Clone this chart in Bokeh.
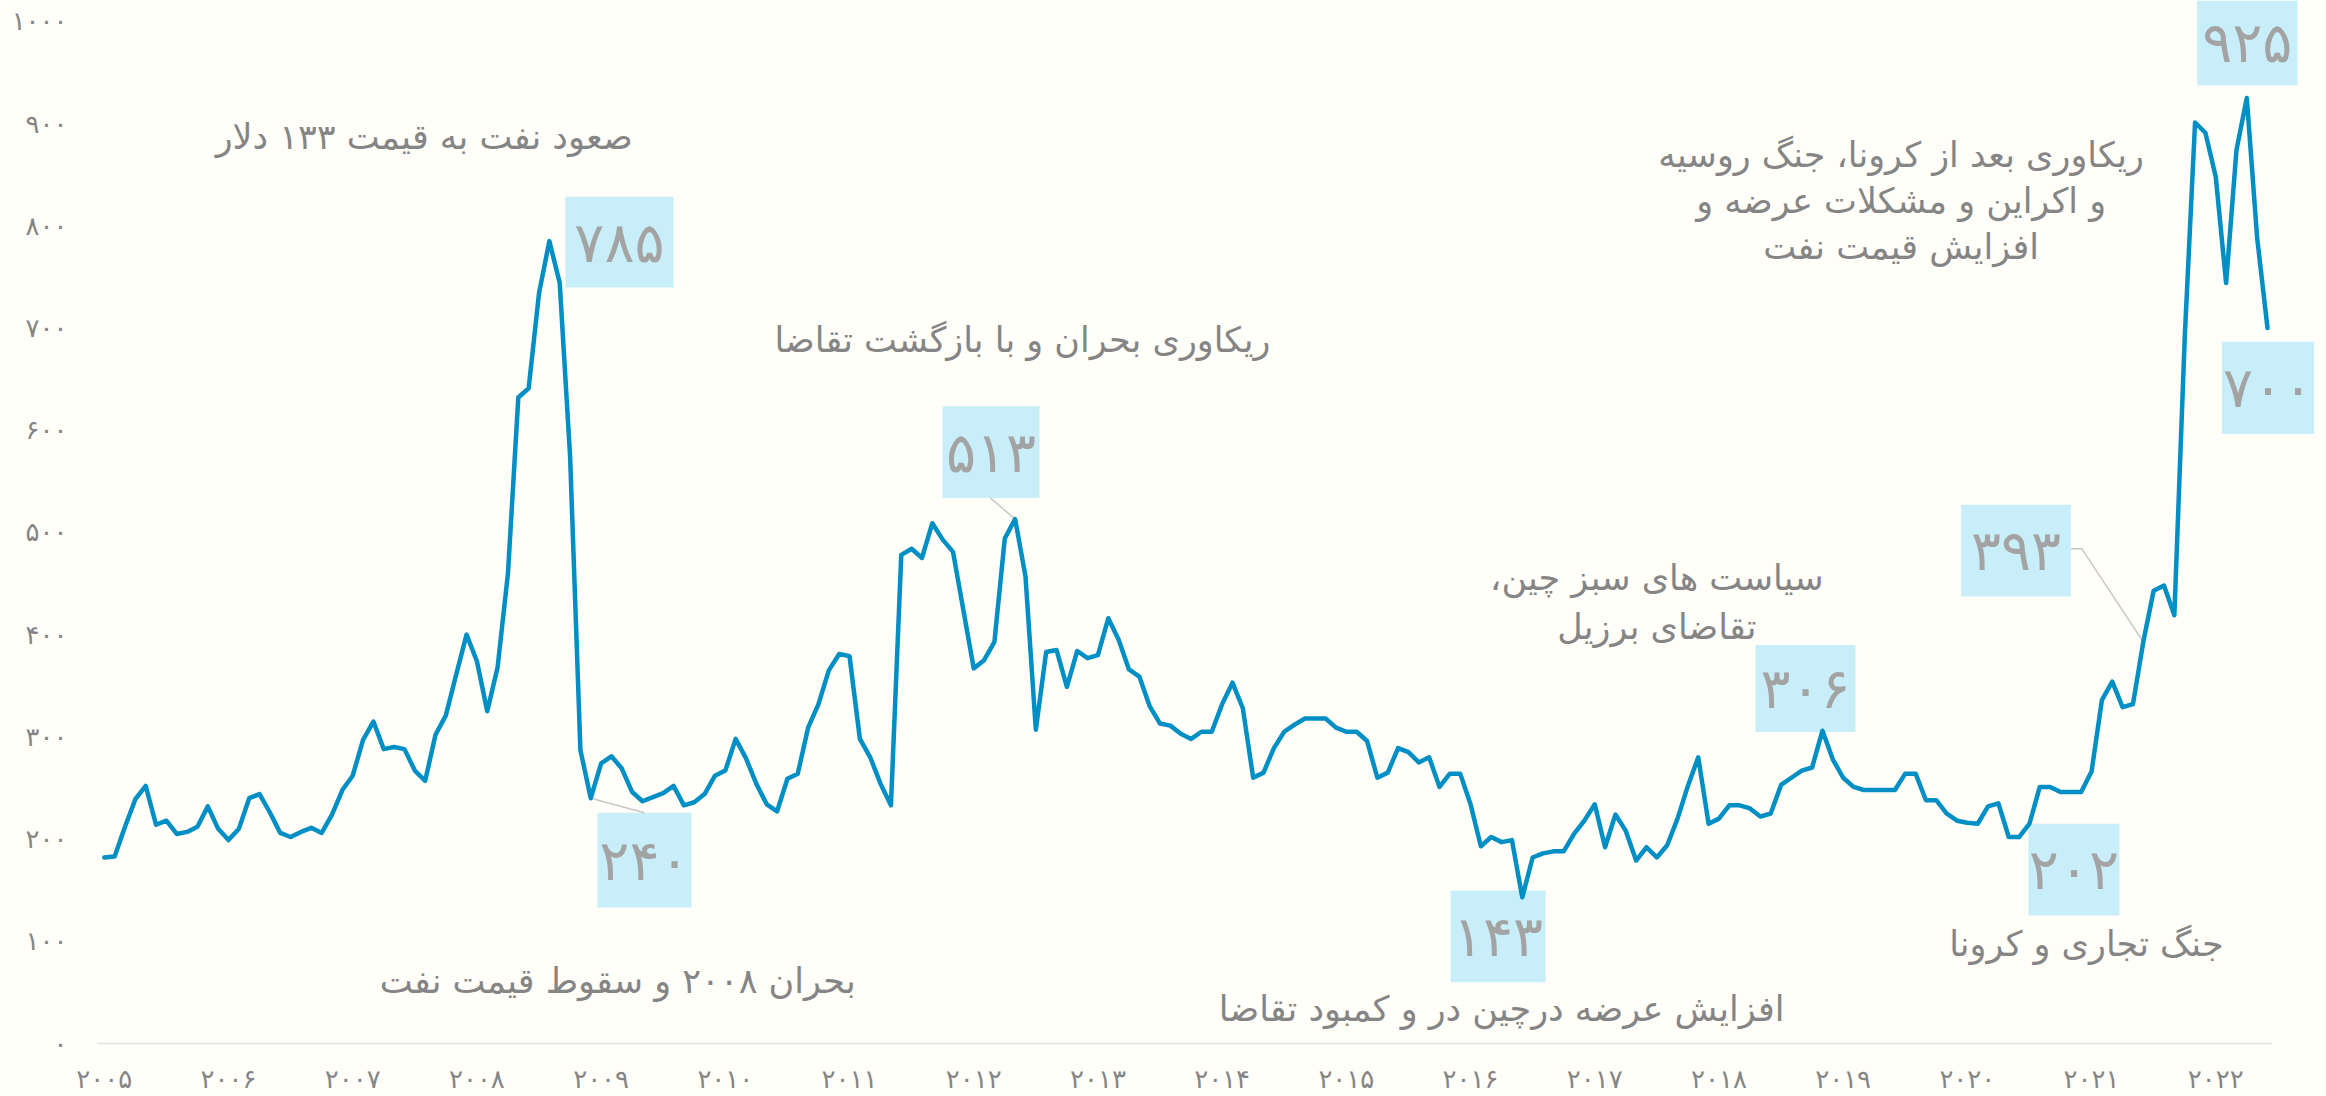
from bokeh.plotting import figure
from bokeh.models import ColumnDataSource, FixedTicker, Range1d
from bokeh.core.properties import value
from bokeh.embed import file_html
from bokeh.resources import INLINE

FA_DIGITS = str.maketrans("0123456789", "۰۱۲۳۴۵۶۷۸۹")


def fa(n):
    return str(n).translate(FA_DIGITS)


# ---------------- data ----------------
years = list(range(2005, 2023))          # tick labels on x (January of each year)
y_ticks = list(range(0, 1001, 100))      # tick labels on y

# monthly values, Jan 2005 .. Jun 2022
prices = [
    182, 183, 212, 239, 252, 214, 218, 205, 207, 212, 232, 210,   # 2005
    199, 210, 240, 244, 226, 206, 202, 207, 211, 206, 224, 248,   # 2006
    262, 297, 315, 288, 290, 288, 267, 257, 302, 321, 361, 400,   # 2007
    374, 325, 368, 460, 632, 641, 734, 785, 744, 575, 287, 240,   # 2008
    274, 281, 269, 246, 237, 241, 245, 252, 233, 236, 244, 262,   # 2009
    267, 298, 279, 254, 234, 227, 259, 264, 309, 332, 365, 381,   # 2010
    379, 298, 280, 254, 233, 478, 484, 475, 509, 493, 481, 424,   # 2011
    367, 375, 393, 494, 513, 457, 307, 383, 385, 349, 384, 377,   # 2012
    380, 416, 395, 366, 359, 330, 313, 311, 303, 298, 305, 305,   # 2013
    332, 353, 328, 260, 265, 289, 305, 312, 318, 318, 318, 309,   # 2014
    305, 305, 296, 260, 265, 289, 285, 275, 280, 251, 264, 264,   # 2015
    234, 193, 202, 197, 199, 143, 182, 186, 188, 188, 205, 218,   # 2016
    234, 192, 224, 208, 179, 192, 182, 194, 220, 252, 280, 215,   # 2017
    220, 233, 233, 230, 222, 225, 253, 260, 267, 270, 306, 278,   # 2018
    260, 251, 248, 248, 248, 248, 264, 264, 238, 238, 225, 218,   # 2019
    216, 215, 232, 235, 202, 202, 215, 251, 251, 246, 246, 246,   # 2020
    266, 336, 354, 329, 332, 393, 443, 448, 419, 690, 901, 891,   # 2021
    848, 744, 874, 925, 788, 700,                                 # 2022
]
months = list(range(len(prices)))

# highlighted points (index into the monthly series)
callout_idx = [43, 47, 88, 137, 166, 184, 197, 207, 209]

# ---------------- layout / style ----------------
BG = "#FFFEF8"
LINE = "#008FC5"
BOX = "#C8EEFA"
BOX_TXT = "#A3A3A3"
TXT = "#858585"
FONT = "DejaVu Sans"

p = figure(
    width=2326, height=1096,
    x_range=Range1d(-3.266, 214.7), y_range=Range1d(0, 1020.4),
    output_backend="svg", toolbar_location=None,
    min_border_left=70, min_border_right=0, min_border_top=0, min_border_bottom=50,
    background_fill_color=BG, border_fill_color=BG, outline_line_color=None,
)
p.xgrid.visible = False
p.ygrid.visible = False

# call-out boxes (left, right, bottom, top) in data units
box_l = [44.55, 47.65, 80.99, 130.07, 159.54, 185.90, 179.40, 202.20, 204.60]
box_r = [55.00, 56.73, 90.36, 139.25, 169.20, 194.70, 190.00, 211.90, 213.50]
box_b = [739.6, 133.1, 533.8, 60.0, 304.7, 125.3, 437.3, 937.5, 596.3]
box_t = [828.3, 225.7, 623.5, 149.7, 389.9, 215.0, 527.0, 1020.4, 686.6]
box_src = ColumnDataSource(dict(
    left=box_l, right=box_r, bottom=box_b, top=box_t,
    cx=[(a + b) / 2 for a, b in zip(box_l, box_r)],
    cy=[(a + b) / 2 for a, b in zip(box_b, box_t)],
    label=[fa(prices[i]) for i in callout_idx],
))
p.quad(left="left", right="right", bottom="bottom", top="top", source=box_src,
       fill_color=BOX, line_color=None)

# leader lines
p.line([47, 52.2], [prices[47], 225.7], line_color="#C8C8C8", line_width=1.5)
p.line([88, 85.6], [prices[88], 533.8], line_color="#C8C8C8", line_width=1.5)
p.line([190.0, 191.05, 197], [484.1, 484.1, prices[197]], line_color="#C8C8C8", line_width=1.5)

# main series
p.line(months, prices, line_color=LINE, line_width=4.5, line_join="round", line_cap="round")

p.text(x="cx", y="cy", text="label", source=box_src, text_align="center",
       text_baseline="middle", text_font=value(FONT), text_font_size="56px",
       text_color=BOX_TXT)

# annotations
ann = ColumnDataSource(dict(
    x=[30.9, 88.7, 49.6, 135.0, 150.0, 150.0, 173.6, 173.6, 173.6, 191.5],
    y=[887.0, 688.0, 61.0, 33.6, 455.8, 407.0, 869.2, 824.4, 779.5, 97.0],
    text=[
        "صعود نفت به قیمت ۱۳۳ دلار",
        "ریکاوری بحران و با بازگشت تقاضا",
        "بحران ۲۰۰۸ و سقوط قیمت نفت",
        "افزایش عرضه درچین در و کمبود تقاضا",
        "سیاست های سبز چین،\u200f",
        "تقاضای برزیل",
        "ریکاوری بعد از کرونا، جنگ روسیه",
        "و اکراین و مشکلات عرضه و",
        "افزایش قیمت نفت",
        "جنگ تجاری و کرونا",
    ],
))
p.text(x="x", y="y", text="text", source=ann, text_align="center",
       text_baseline="middle", text_font=value(FONT), text_font_size="35px",
       text_color=TXT)

# axes
p.yaxis.ticker = FixedTicker(ticks=y_ticks)
p.yaxis.major_label_overrides = {t: fa(t) for t in y_ticks}
p.yaxis.axis_line_color = None
p.yaxis.major_tick_line_color = None
p.yaxis.minor_tick_line_color = None
p.yaxis.major_tick_out = 0
p.yaxis.major_label_standoff = 3
p.yaxis.major_label_text_font = FONT
p.yaxis.major_label_text_font_size = "26px"
p.yaxis.major_label_text_color = TXT
p.yaxis.major_label_text_baseline = "alphabetic"

x_ticks = [12 * k for k in range(len(years))]
p.xaxis.ticker = FixedTicker(ticks=x_ticks)
p.xaxis.major_label_overrides = {t: fa(y) for t, y in zip(x_ticks, years)}
p.xaxis.axis_line_color = "#E6E6E6"
p.xaxis.axis_line_width = 2
p.xaxis.bounds = (-0.66, 209.4)
p.xaxis.major_tick_line_color = None
p.xaxis.minor_tick_line_color = None
p.xaxis.major_tick_out = 0
p.xaxis.major_label_standoff = 20
p.xaxis.major_label_text_font = FONT
p.xaxis.major_label_text_font_size = "26px"
p.xaxis.major_label_text_color = TXT

open("out.html", "w").write(file_html(p, INLINE))
